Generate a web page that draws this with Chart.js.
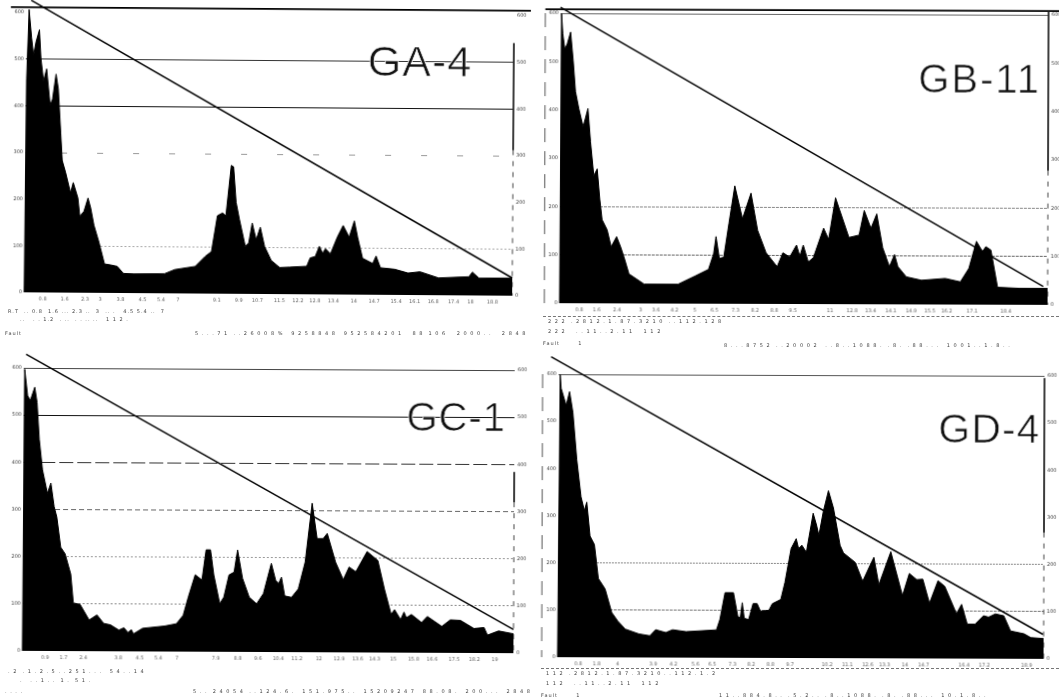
<!DOCTYPE html>
<html lang="en">
<head>
<meta charset="UTF-8">
<title>GA-4 GB-11 GC-1 GD-4</title>
<script src="https://cdn.jsdelivr.net/npm/chart.js"></script>
<style>
  body { margin: 0; background: #fff; width: 1059px; height: 698px; overflow: hidden; position: relative; }
  .panel { position: absolute; transform-origin: 50% 50%; }
  .panel canvas { position: absolute; left: 0; top: 0; }
  .name { position: absolute; font-family: "Liberation Sans", sans-serif; color: #111; line-height: 1; white-space: nowrap; -webkit-text-stroke: 0.7px #fff; }
  .small { position: absolute; font: 5px "DejaVu Sans", sans-serif; color: #444; white-space: pre; letter-spacing: 1px; }
  .rule { position: absolute; border-top: 1px dashed #777; height: 0; }
</style>
</head>
<body>
<script>
// values, x is in scan units along the run
const gaTimes = [0,3,9,17,23,30,40,45,53,62,73,80,90,97,105,110,120,135,143,157,163,175,187,195,205,220,237,255,275,293,325,415,445,505,535,553,570,585,595,610,617,625,635,653,663,673,685,697,710,730,755,785,835,845,860,872,882,890,905,925,942,960,975,985,1000,1030,1040,1053,1095,1135,1170,1225,1315,1325,1345,1443];
const gaValues = [0,457,606,545,508,537,563,501,453,479,402,414,468,436,341,283,258,214,236,203,164,174,203,182,145,109,62,60,57,42,41,42,51,58,80,90,167,173,167,275,272,196,160,102,109,152,116,143,102,72,57,58,60,78,81,103,88,98,87,123,148,123,158,123,78,67,83,58,55,47,50,37,40,50,37,38];
const gbTimes = [0,3,7,13,20,30,38,45,55,68,82,90,100,110,118,125,140,152,168,180,190,205,250,350,400,440,455,462,472,485,500,517,540,565,585,610,643,660,680,700,710,720,735,750,780,795,815,855,885,900,920,937,955,975,990,1000,1025,1070,1140,1185,1210,1232,1250,1260,1275,1295,1360,1443];
const gbValues = [0,599,557,526,536,561,501,438,403,365,403,334,264,278,215,173,152,117,138,117,96,61,40,40,57,71,103,139,94,96,166,244,176,229,152,106,77,106,97,122,99,122,87,96,157,134,220,138,143,194,157,187,117,78,103,78,57,50,54,47,75,131,110,120,113,36,34,34];
const gcTimes = [0,3,12,20,33,40,47,57,72,82,92,100,112,125,142,150,170,197,220,240,260,285,300,312,322,328,355,420,455,475,490,510,530,542,555,565,583,595,610,625,635,650,670,692,712,735,748,757,765,775,795,815,835,855,870,888,900,925,948,965,985,1018,1050,1070,1090,1100,1118,1128,1135,1150,1180,1197,1240,1265,1295,1335,1365,1375,1408,1452];
const gcValues = [0,597,541,531,559,527,449,384,334,356,306,284,220,206,163,102,99,66,77,59,56,45,50,40,46,37,49,54,59,77,116,163,152,216,216,163,102,116,163,169,216,156,116,102,124,188,152,145,159,119,116,134,191,316,241,241,252,191,154,181,171,214,195,134,81,91,70,86,74,81,64,77,56,70,69,52,54,38,47,41];
const gdTimes = [0,5,8,23,33,43,55,68,78,85,95,108,120,140,160,178,200,240,273,290,320,340,380,470,480,495,520,533,540,546,552,565,578,590,600,625,635,660,672,690,705,712,722,735,755,765,772,785,800,815,835,845,880,902,925,935,950,985,1020,1040,1062,1080,1100,1125,1145,1180,1195,1212,1235,1260,1275,1295,1320,1340,1380,1400,1438];
const gdValues = [0,599,570,534,563,519,419,340,311,329,257,239,167,145,95,77,60,50,46,59,53,59,55,59,81,138,138,88,84,117,84,81,115,115,99,101,115,124,160,232,253,232,239,224,307,282,260,311,355,318,239,223,203,163,199,214,156,226,133,180,167,168,117,165,153,95,115,73,73,91,88,95,91,59,53,45,43];

// the straight falling line of each panel
const gaLineX = [15, 1443];
const gaLineY = [626, 38];
const gbLineX = [0, 1430];
const gbLineY = [612, 38];
const gcLineX = [7, 1452];
const gcLineY = [629, 50];
const gdLineX = [-22, 1436];
const gdLineY = [637, 52];

// tick labels under each plot, mostly guessed because the scan is so faint
const gaTicks = [55,120,180,225,285,350,405,455,570,635,690,755,810,860,915,975,1035,1100,1155,1210,1270,1320,1385];
const gaTickLabels = ["0.8","1.6","2.3","3","3.8","4.5","5.4","7","9.1","9.9","10.7","11.5","12.2","12.8","13.4","14","14.7","15.4","16.1","16.8","17.4","18","18.8"];
const gbTicks = [58,110,170,240,285,340,400,458,520,578,635,690,800,865,920,980,1040,1095,1145,1220,1320];
const gbTickLabels = ["0.8","1.6","2.4","3","3.6","4.2","5","6.5","7.3","8.2","8.8","9.5","11","12.8","13.4","14.1","14.9","15.5","16.2","17.1","18.4"];
const gcTicks = [67,122,180,284,347,402,457,572,637,697,757,812,877,937,992,1042,1097,1157,1212,1277,1337,1397];
const gcTickLabels = ["0.9","1.7","2.4","3.8","4.5","5.4","7","7.9","8.8","9.6","10.4","11.2","12","12.9","13.6","14.3","15","15.8","16.6","17.5","18.2","19"];
const gdTicks = [61,116,178,283,343,408,458,518,573,630,688,798,858,918,968,1028,1083,1203,1263,1388];
const gdTickLabels = ["0.8","1.8","4","3.9","4.2","5.6","6.5","7.3","8.2","8.8","9.7","10.2","11.1","12.6","13.3","14","14.7","16.4","17.2","18.9"];

const yTickValues = [0, 100, 200, 300, 400, 500, 600];

// look of each gridline, by tick value
const gaGrid = { 500: ['#333', 1, []], 400: ['#111', 1, []], 300: ['#999', 1, [6, 30]], 100: ['#aaa', 1, [2, 2]] };
const gbGrid = { 600: ['#666', 1, []], 200: ['#888', 1, [3, 1]], 100: ['#666', 1, [3, 1]] };
const gcGrid = { 600: ['#444', 1, []], 500: ['#111', 1, []], 400: ['#333', 1, [14, 4]], 300: ['#666', 1, [5, 3]], 200: ['#999', 1, [2, 2]], 100: ['#888', 1, [2, 2]] };
const gdGrid = { 600: ['#555', 1, []], 200: ['#888', 1, [2, 1]], 100: ['#777', 1, [3, 1]] };

const panels = [
  { id: 'ga', name: 'GA-4', xs: gaTimes, ys: gaValues, lx: gaLineX, ly: gaLineY, ticks: gaTicks, labels: gaTickLabels, grid: gaGrid,
    box: [0, 0, 530, 340], pad: [25, 17, 14, 46], xMax: 1443, tilt: 0.4, topRule: [-45, 1493, 611], frame: [541, 312],
    nameCss: 'left:367px;top:39px;font-size:43px;letter-spacing:1px' },
  { id: 'gb', name: 'GB-11', xs: gbTimes, ys: gbValues, lx: gbLineX, ly: gbLineY, ticks: gbTicks, labels: gbTickLabels, grid: gbGrid,
    box: [530, 1, 529, 350], pad: [30, 11, 13, 47], xMax: 1443, tilt: 0.2, topRule: [-45, 1478, 608], frame: [608, 278], leftLine: -45,
    nameCss: 'left:388px;top:57px;font-size:40px;letter-spacing:2px' },
  { id: 'gc', name: 'GC-1', xs: gcTimes, ys: gcValues, lx: gcLineX, ly: gcLineY, ticks: gcTicks, labels: gcTickLabels, grid: gcGrid,
    box: [0, 345, 530, 353], pad: [23, 16, 24, 46], xMax: 1452, tilt: 0.27, frame: [384, 320],
    nameCss: 'left:406px;top:51px;font-size:40px;letter-spacing:1px' },
  { id: 'gd', name: 'GD-4', xs: gdTimes, ys: gdValues, lx: gdLineX, ly: gdLineY, ticks: gdTicks, labels: gdTickLabels, grid: gdGrid,
    box: [530, 346, 529, 353], pad: [28, 15, 29, 41], xMax: 1438, tilt: 0.2, frame: [595, 268], leftLine: -47,
    nameCss: 'left:408px;top:62px;font-size:41px;letter-spacing:1px' }
];

function pairs(xs, ys) {
  return xs.map((x, i) => ({ x: x, y: ys[i] }));
}

function drawPanel(p) {
  const div = document.createElement('div');
  div.className = 'panel';
  div.style.cssText = `left:${p.box[0]}px;top:${p.box[1]}px;width:${p.box[2]}px;height:${p.box[3]}px;transform:rotate(${p.tilt}deg)`;
  const canvas = document.createElement('canvas');
  canvas.width = p.box[2];
  canvas.height = p.box[3];
  div.appendChild(canvas);
  const name = document.createElement('div');
  name.className = 'name';
  name.style.cssText = p.nameCss;
  name.textContent = p.name;
  div.appendChild(name);
  document.body.appendChild(div);

  const plain = { fill: false, pointRadius: 0, tension: 0, clip: false };
  const datasets = [
    { data: pairs(p.xs, p.ys), borderColor: '#000', backgroundColor: '#000', borderWidth: 1, fill: 'origin', pointRadius: 0, tension: 0, clip: false },
    { ...plain, data: pairs(p.lx, p.ly), borderColor: '#000', borderWidth: 1.5 },
    // right frame, solid where the scan kept it and broken below
    { ...plain, data: pairs([p.xMax, p.xMax], p.frame), borderColor: '#222', borderWidth: 1 },
    { ...plain, data: pairs([p.xMax, p.xMax], [p.frame[1], 0]), borderColor: '#444', borderWidth: 1, borderDash: [5, 6] }
  ];
  if (p.topRule) {
    datasets.push({ ...plain, data: pairs(p.topRule.slice(0, 2), [p.topRule[2], p.topRule[2]]), borderColor: '#000', borderWidth: 1.6 });
  }
  if (p.leftLine !== undefined) {
    datasets.push({ ...plain, data: pairs([p.leftLine, p.leftLine], [600, 0]), borderColor: '#555', borderWidth: 1, borderDash: [14, 9] });
  }

  const smallFont = { size: 5, family: 'DejaVu Sans' };
  const setY = s => { s.ticks = yTickValues.map(v => ({ value: v })); };
  const look = (ctx, i, dflt) => {
    const g = ctx.tick && p.grid[ctx.tick.value];
    return g ? g[i] : dflt;
  };

  new Chart(canvas, {
    type: 'line',
    data: { datasets: datasets },
    options: {
      responsive: false,
      animation: false,
      devicePixelRatio: 1,
      layout: { padding: { top: p.pad[2], left: 0, right: 0, bottom: 0 } },
      plugins: { legend: { display: false }, tooltip: { enabled: false } },
      scales: {
        x: {
          type: 'linear', min: 0, max: p.xMax,
          afterFit: s => { s.height = p.pad[3]; },
          afterBuildTicks: s => { s.ticks = p.ticks.map(v => ({ value: v })); },
          grid: { display: false, drawTicks: false },
          border: { display: false },
          ticks: {
            autoSkip: false, maxRotation: 0, font: smallFont, color: '#666', padding: 4,
            callback: (v, i) => p.labels[i]
          }
        },
        y: {
          min: 0, max: 600,
          afterFit: s => { s.width = p.pad[0]; },
          afterBuildTicks: setY,
          grid: {
            drawTicks: false,
            color: ctx => look(ctx, 0, 'rgba(0,0,0,0)'),
            lineWidth: ctx => look(ctx, 1, 1)
          },
          border: { display: false, dash: ctx => look(ctx, 2, []) },
          ticks: { font: smallFont, color: '#444', padding: 2 }
        },
        yRight: {
          position: 'right', min: 0, max: 600,
          afterFit: s => { s.width = p.pad[1]; },
          afterBuildTicks: setY,
          grid: { display: false, drawTicks: false },
          border: { display: false },
          ticks: { font: smallFont, color: '#444', padding: 3 }
        }
      }
    }
  });
}

panels.forEach(drawPanel);

// faint report lines under each plot
const reportRows = [
  ['left:8px;top:308px', 'R.T  .. 0.8  1.6 ... 2.3 ..  3  .. .   4.5 5.4 ..  7'],
  ['left:20px;top:316px', '..   . . 1.2  . ..  . . .. ..   1 1 2 .'],
  ['left:5px;top:330px', 'Fault'],
  ['left:195px;top:330px', '5 . . . 7 1  . . 2 6 0 0 8 %   9 2 5 8 8 4 8   9 5 2 5 8 4 2 0 1    8 8  1 0 6    2 0 0 0 . .    2 8 4 8'],
  ['left:548px;top:318px', '2 2 2  . 2 8 1 2 . 1 . 8 7 . 3 2 1 0  . . 1 1 2 . 1 2 8'],
  ['left:548px;top:328px', '2 2 2    . . 1 1 . . 2 . 1 1    1 1 2'],
  ['left:543px;top:340px', 'Fault       1'],
  ['left:724px;top:342px', '8 . . . 8 7 5 2  . . 2 0 0 0 2   . . 8 . . 1 0 8 8 .  . 8 .  . 8 8 . . .   1 0 0 1 . . 1 . 8 . .'],
  ['left:8px;top:668px', '. 2  . 1 . 2 . 5 . . 2 5 1 . . .   5 4 . . 1 4'],
  ['left:20px;top:677px', '.   . . 1 . .  1 .  5 1 .'],
  ['left:5px;top:688px', '. . . .'],
  ['left:193px;top:688px', '5 . .  2 4 0 5 4  . . 1 2 4 . 6 .   1 5 1 . 9 7 5 . .   1 5 2 0 9 2 4 7   8 8 . 0 8 .   2 0 0 . . .   2 8 4 8'],
  ['left:546px;top:670px', '1 1 2  . 2 8 1 2 . 1 . 8 7 . 3 2 1 0 . . 1 1 2 . 1 . 2'],
  ['left:546px;top:680px', '1 1 2    . . 1 1 . . 2 . 1 1    1 1 2'],
  ['left:541px;top:692px', 'Fault       1'],
  ['left:719px;top:692px', '1 1 . . 8 8 4 . 8 . .  . 5 . 2 . .  . 8 . . 1 0 8 8 .  . 8 .  . 8 8 . . .   1 0 . 1 . 8 . .']
];
reportRows.forEach(r => {
  const s = document.createElement('div');
  s.className = 'small';
  s.style.cssText = r[0];
  s.textContent = r[1];
  document.body.appendChild(s);
});

// dashed rules below the b and d tables
[['left:543px;top:316px;width:516px'], ['left:541px;top:668px;width:518px']].forEach(r => {
  const d = document.createElement('div');
  d.className = 'rule';
  d.style.cssText = r[0];
  document.body.appendChild(d);
});
</script>
</body>
</html>
